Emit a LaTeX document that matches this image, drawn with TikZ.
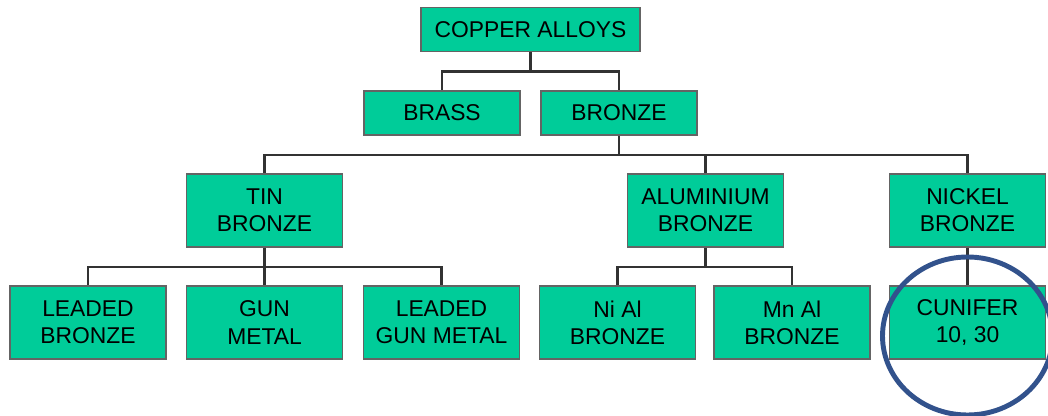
\documentclass[tikz,border=0pt]{standalone}
\usepackage{fontspec}
\setmainfont{Liberation Sans}
\usetikzlibrary{positioning, calc}
\definecolor{alloygreen}{RGB}{0,204,153}
\definecolor{boxgray}{RGB}{100,100,100}
\definecolor{linegray}{RGB}{50,50,50}
\definecolor{ringblue}{RGB}{50,82,140}

\begin{document}
\begin{tikzpicture}[
  box/.style={draw=boxgray, fill=alloygreen, line width=1pt,
    minimum width=3.12cm, minimum height=1.46cm, align=center, inner sep=0pt,
    font=\fontsize{13}{15.5}\selectfont},
  flat/.style={box, minimum height=0.88cm},
  link/.style={linegray, line width=1.4pt},
  ring/.style={ringblue, line width=2.8pt}
]
  \useasboundingbox (0,0) rectangle (20.96,8.32);

  \node[flat, minimum width=4.38cm] (copper) at (10.61,7.73) {COPPER ALLOYS};
  \node[flat] (brass) at (8.84,6.06) {BRASS};
  \node[flat] (bronze) at (12.38,6.06) {BRONZE};

  \node[box] (tin) at (5.29,4.11) {TIN\\BRONZE};
  \node[box] (alu) at (14.11,4.11) {ALUMINIUM\\BRONZE};
  \node[box] (nickel) at (19.35,4.11) {NICKEL\\BRONZE};

  \node[box] (leaded) at (1.76,1.87) {LEADED\\BRONZE};
  \node[box] (gun) at (5.29,1.87) {GUN\\METAL};
  \node[box] (leadgun) at (8.83,1.87) {LEADED\\GUN METAL};
  \node[box] (nial) at (12.35,1.87) {Ni Al\\BRONZE};
  \node[box] (mnal) at (15.84,1.87) {Mn Al\\BRONZE};
  \node[box] (cunifer) at (19.35,1.87) {CUNIFER\\10, 30};

  \draw[link] (copper.south) -- ++(0,-0.38) -| (brass.north);
  \draw[link] (copper.south) -- ++(0,-0.38) -| (bronze.north);

  \draw[link] (bronze.south) -- ++(0,-0.38) -| (tin.north);
  \draw[link] (bronze.south) -- ++(0,-0.38) -| (alu.north);
  \draw[link] (bronze.south) -- ++(0,-0.38) -| (nickel.north);

  \draw[link] (tin.south) -- ++(0,-0.38) -| (leaded.north);
  \draw[link] (tin.south) -- (gun.north);
  \draw[link] (tin.south) -- ++(0,-0.38) -| (leadgun.north);

  \draw[link] (alu.south) -- ++(0,-0.38) -| (nial.north);
  \draw[link] (alu.south) -- ++(0,-0.38) -| (mnal.north);

  \draw[link] (nickel.south) -- (cunifer.north);

  % Highlight
  \draw[ring] ($(cunifer.center)+(0,-0.27)$) ellipse (1.7 and 1.58);
\end{tikzpicture}
\end{document}
